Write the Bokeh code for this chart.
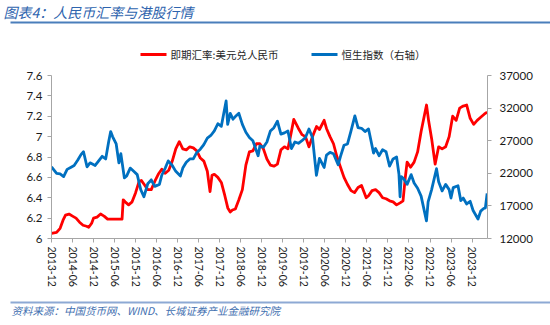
from bokeh.plotting import figure
from bokeh.layouts import column
from bokeh.models import (Range1d, LinearAxis, FixedTicker, CustomJSTickFormatter)
from bokeh.core.properties import value
from bokeh.embed import file_html
from bokeh.resources import INLINE

# ---------------- data ----------------
cny_dates = [
    "2013-12-01", "2014-01-15", "2014-02-15", "2014-03-10", "2014-04-01", "2014-05-01",
    "2014-06-01", "2014-07-01", "2014-08-01", "2014-09-01", "2014-10-01", "2014-10-20",
    "2014-11-15", "2014-12-01", "2015-01-01", "2015-02-01", "2015-03-01", "2015-04-01",
    "2015-05-01", "2015-06-01", "2015-07-01", "2015-08-05", "2015-08-15", "2015-09-01",
    "2015-10-01", "2015-11-01", "2015-12-01", "2016-01-01", "2016-01-20", "2016-02-15",
    "2016-03-15", "2016-04-15", "2016-05-15", "2016-06-15", "2016-07-15", "2016-08-15",
    "2016-09-15", "2016-10-15", "2016-11-15", "2016-12-15", "2017-01-15", "2017-02-15",
    "2017-03-15", "2017-04-15", "2017-05-15", "2017-06-15", "2017-07-15", "2017-08-15",
    "2017-09-08", "2017-09-25", "2017-10-15", "2017-11-15", "2017-12-15", "2018-01-15",
    "2018-02-10", "2018-03-01", "2018-03-20", "2018-04-15", "2018-05-15", "2018-06-15",
    "2018-07-15", "2018-08-15", "2018-09-15", "2018-10-15", "2018-11-15", "2018-12-15",
    "2019-01-15", "2019-02-15", "2019-03-15", "2019-04-15", "2019-05-15", "2019-06-15",
    "2019-07-15", "2019-08-15", "2019-09-05", "2019-10-15", "2019-11-15", "2019-12-15",
    "2020-01-15", "2020-02-15", "2020-03-20", "2020-04-15", "2020-05-25", "2020-06-15",
    "2020-07-15", "2020-08-15", "2020-09-15", "2020-10-15", "2020-11-15", "2020-12-15",
    "2021-01-15", "2021-02-15", "2021-03-15", "2021-04-15", "2021-05-25", "2021-06-15",
    "2021-07-15", "2021-08-15", "2021-09-15", "2021-10-15", "2021-11-15", "2021-12-15",
    "2022-01-15", "2022-02-15", "2022-03-15", "2022-04-10", "2022-04-30", "2022-05-15",
    "2022-06-15", "2022-07-15", "2022-08-15", "2022-09-15", "2022-10-15", "2022-11-01",
    "2022-11-20", "2022-12-15", "2023-01-15", "2023-02-15", "2023-03-15", "2023-04-15",
    "2023-05-15", "2023-06-15", "2023-07-15", "2023-08-15", "2023-09-15", "2023-10-15",
    "2023-11-15", "2023-12-15", "2024-01-15", "2024-02-15", "2024-03-15", "2024-04-10",
]
cny_values = [
    6.05, 6.06, 6.10, 6.18, 6.23, 6.24,
    6.22, 6.20, 6.16, 6.13, 6.12, 6.11,
    6.15, 6.20, 6.21, 6.24, 6.22, 6.19,
    6.19, 6.19, 6.19, 6.19, 6.38, 6.36,
    6.33, 6.36, 6.45, 6.56, 6.57, 6.53,
    6.48, 6.48, 6.56, 6.63, 6.68, 6.64,
    6.67, 6.76, 6.88, 6.95, 6.88, 6.87,
    6.90, 6.89, 6.86, 6.79, 6.76, 6.66,
    6.46, 6.62, 6.63, 6.60, 6.55, 6.42,
    6.30, 6.26, 6.28, 6.29, 6.38, 6.48,
    6.72, 6.85, 6.86, 6.93, 6.93, 6.88,
    6.78, 6.72, 6.71, 6.73, 6.87, 6.90,
    6.88, 7.05, 7.17, 7.08, 7.02, 7.00,
    6.90, 7.00, 7.10, 7.07, 7.16, 7.08,
    7.00, 6.93, 6.80, 6.70, 6.60, 6.53,
    6.47, 6.45, 6.50, 6.52, 6.40, 6.42,
    6.47, 6.48, 6.45, 6.40, 6.39, 6.37,
    6.36, 6.33, 6.35, 6.37, 6.60, 6.75,
    6.70, 6.75, 6.85, 7.05, 7.22, 7.31,
    7.15, 6.98, 6.73, 6.90, 6.88, 6.90,
    7.00, 7.20, 7.16, 7.28, 7.30, 7.31,
    7.18, 7.12, 7.16, 7.19, 7.22, 7.24,
]

hsi_dates = [
    "2013-12-01", "2014-01-15", "2014-02-15", "2014-03-15", "2014-04-15", "2014-05-15",
    "2014-06-15", "2014-07-15", "2014-08-15", "2014-09-05", "2014-10-05", "2014-11-01",
    "2014-12-15", "2015-01-15", "2015-02-15", "2015-03-15", "2015-04-10", "2015-04-28",
    "2015-05-15", "2015-06-15", "2015-07-08", "2015-07-25", "2015-08-25", "2015-09-15",
    "2015-10-15", "2015-11-15", "2015-12-15", "2016-01-15", "2016-02-12", "2016-03-15",
    "2016-04-15", "2016-05-15", "2016-06-25", "2016-07-15", "2016-08-15", "2016-09-10",
    "2016-10-15", "2016-11-15", "2016-12-25", "2017-01-15", "2017-02-15", "2017-03-15",
    "2017-04-15", "2017-05-15", "2017-06-15", "2017-07-15", "2017-08-15", "2017-09-15",
    "2017-10-15", "2017-11-15", "2017-12-15", "2018-01-26", "2018-02-09", "2018-03-01",
    "2018-03-25", "2018-04-15", "2018-05-15", "2018-06-15", "2018-07-15", "2018-08-15",
    "2018-09-15", "2018-10-30", "2018-11-15", "2018-12-15", "2019-01-15", "2019-02-15",
    "2019-03-15", "2019-04-15", "2019-05-15", "2019-06-15", "2019-07-15", "2019-08-15",
    "2019-09-15", "2019-10-15", "2019-11-15", "2019-12-15", "2020-01-15", "2020-02-15",
    "2020-03-19", "2020-04-15", "2020-05-25", "2020-06-15", "2020-07-15", "2020-08-15",
    "2020-09-25", "2020-10-15", "2020-11-15", "2020-12-15", "2021-01-15", "2021-02-18",
    "2021-03-15", "2021-04-15", "2021-05-15", "2021-06-15", "2021-07-28", "2021-08-15",
    "2021-09-15", "2021-10-15", "2021-11-15", "2021-12-15", "2022-01-15", "2022-02-15",
    "2022-03-05", "2022-03-15", "2022-03-25", "2022-04-15", "2022-05-15", "2022-06-20",
    "2022-07-15", "2022-08-15", "2022-09-15", "2022-10-31", "2022-11-15", "2022-12-15",
    "2023-01-27", "2023-02-15", "2023-03-15", "2023-04-15", "2023-05-15", "2023-05-31",
    "2023-06-20", "2023-07-31", "2023-08-25", "2023-09-15", "2023-10-15", "2023-11-15",
    "2023-12-10", "2024-01-22", "2024-02-15", "2024-03-10", "2024-03-25", "2024-04-10",
]
hsi_values = [
    23000, 22000, 21900, 21500, 22600, 22900,
    23200, 24000, 24900, 25300, 23000, 23600,
    23200, 23900, 24600, 24200, 26800, 28400,
    27600, 26500, 23600, 25000, 21300, 21600,
    22800, 22300, 21800, 19500, 18400, 20400,
    21000, 20000, 20300, 21700, 22800, 23900,
    23200, 22300, 21600, 22800, 23700, 24200,
    24200, 25200, 25700, 26400, 27400, 27800,
    28500, 29600, 29200, 33100, 29500, 31200,
    30300, 30700, 31200, 29500, 28300, 27500,
    27000, 24700, 26200, 26000, 26800, 28500,
    29000, 30000, 28000, 28200, 28500, 25800,
    26800, 26600, 27000, 27500, 28800, 27500,
    21700, 24300, 22900, 24800, 25200, 25000,
    23300, 24600, 26300, 26500, 28500, 30800,
    29000, 28900, 28400, 28800, 25100, 25800,
    24700, 25600, 25300, 23100, 24200, 24500,
    21900, 18400, 21500, 21200, 20300, 21800,
    20500, 19700, 18500, 14700, 17600, 19500,
    22700, 20700, 19300, 20300, 19500, 18200,
    19800, 20100, 17800, 18200, 17300, 17700,
    16300, 15000, 16200, 16600, 16700, 18900,
]

x_tick_labels = [
    "2013-12", "2014-06", "2014-12", "2015-06", "2015-12", "2016-06", "2016-12",
    "2017-06", "2017-12", "2018-06", "2018-12", "2019-06", "2019-12", "2020-06",
    "2020-12", "2021-06", "2021-12", "2022-06", "2022-12", "2023-06", "2023-12",
]
left_ticks = [6.0, 6.2, 6.4, 6.6, 6.8, 7.0, 7.2, 7.4, 7.6]
right_ticks = [12000, 17000, 22000, 27000, 32000, 37000]

series_names = ["即期汇率:美元兑人民币", "恒生指数（右轴）"]
series_colors = ["#FF0000", "#0070C0"]
title_text = "图表4：人民币汇率与港股行情"
source_text = "资料来源：中国货币网、WIND、长城证券产业金融研究院"


def to_month(s):
    parts = [int(v) for v in s.split("-")]
    y, m = parts[0], parts[1]
    d = parts[2] if len(parts) > 2 else 1
    return (y - 2013) * 12 + (m - 12) + (d - 1) / 30.5


cny_x = [to_month(s) for s in cny_dates]
hsi_x = [to_month(s) for s in hsi_dates]
x_ticks = [to_month(s) for s in x_tick_labels]

FONT = "Lato"
CJK = "Noto Sans CJK SC"
W = 550
HEAD_H = 67          # canvas rows 0..67
MAIN_H = 223         # canvas rows 67..290
FOOT_H = 35          # canvas rows 290..325
FL, FR = 51, 487     # frame left/right on canvas
F_TOP, F_BOT = 75, 238


def blank(h):
    f = figure(width=W, height=h, output_backend="svg", toolbar_location=None,
               x_range=Range1d(0, W), y_range=Range1d(h, 0),
               x_axis_type=None, y_axis_type=None,
               min_border=0, min_border_left=0, min_border_right=0,
               min_border_top=0, min_border_bottom=0, frame_align=False)
    f.outline_line_color = None
    f.background_fill_color = "white"
    f.border_fill_color = "white"
    return f


# ---------------- header: title + legend ----------------
head = blank(HEAD_H)
head.text(x=[3], y=[11], text=[title_text], text_font=value(CJK),
          text_font_size="14px", text_font_style="italic", text_color="#2E64AE",
          text_baseline="middle", text_align="left")
head.segment(x0=[10], y0=[22], x1=[W], y1=[22], line_color="#4A7EBB", line_width=2)

leg_x = [140, 311]
leg_y = 54
head.segment(x0=leg_x, y0=[leg_y, leg_y], x1=[x + 26 for x in leg_x], y1=[leg_y, leg_y],
             line_color=series_colors, line_width=3)
head.text(x=[x + 30 for x in leg_x], y=[leg_y, leg_y], text=series_names,
          text_font=value(CJK), text_font_size="10.5px", text_color="#262626",
          text_baseline="middle", text_align="left")

# ---------------- main chart ----------------
p = figure(width=W, height=MAIN_H, output_backend="svg", toolbar_location=None,
           x_range=Range1d(0, 124.4), y_range=Range1d(6.0, 7.6),
           x_axis_type=None, y_axis_type=None, frame_align=False,
           min_border_left=FL, min_border_right=W - FR,
           min_border_top=F_TOP - HEAD_H, min_border_bottom=HEAD_H + MAIN_H - F_BOT)
p.extra_y_ranges = {"hsi": Range1d(12000, 37000)}
p.outline_line_color = None
p.background_fill_color = "white"
p.border_fill_color = "white"


def style_axis(ax, size="11px"):
    ax.axis_line_color = "#A6A6A6"
    ax.axis_line_width = 1
    ax.major_tick_line_color = "#A6A6A6"
    ax.major_tick_in = 0
    ax.major_tick_out = 4
    ax.minor_tick_line_color = None
    ax.major_label_text_font = FONT
    ax.major_label_text_font_size = size
    ax.major_label_text_color = "#1A1A1A"


xaxis = LinearAxis(ticker=FixedTicker(ticks=x_ticks),
                   major_label_overrides={t: lab for t, lab in zip(x_ticks, x_tick_labels)},
                   major_label_orientation="vertical")
style_axis(xaxis, "10.5px")
xaxis.major_label_standoff = 4
p.add_layout(xaxis, "below")

laxis = LinearAxis(ticker=FixedTicker(ticks=left_ticks),
                   formatter=CustomJSTickFormatter(code="return String(Math.round(tick*10)/10);"))
style_axis(laxis, "11.5px")
laxis.major_label_standoff = 5
p.add_layout(laxis, "left")

raxis = LinearAxis(y_range_name="hsi", ticker=FixedTicker(ticks=right_ticks))
style_axis(raxis, "11.5px")
raxis.major_label_standoff = 8
p.add_layout(raxis, "right")

p.line(cny_x, cny_values, line_color=series_colors[0], line_width=2.8, line_join="round")
p.line(hsi_x, hsi_values, line_color=series_colors[1], line_width=2.8, line_join="round",
       y_range_name="hsi")

# ---------------- footer: source ----------------
foot = blank(FOOT_H)
foot.segment(x0=[10], y0=[12], x1=[W], y1=[12], line_color="#8DA9D4", line_width=2)
foot.text(x=[11], y=[20], text=[source_text], text_font=value(CJK),
          text_font_size="10.5px", text_font_style="italic", text_color="#3F6FB0",
          text_baseline="middle", text_align="left")

layout = column(head, p, foot, spacing=0)
open("out.html", "w").write(file_html(layout, INLINE))
